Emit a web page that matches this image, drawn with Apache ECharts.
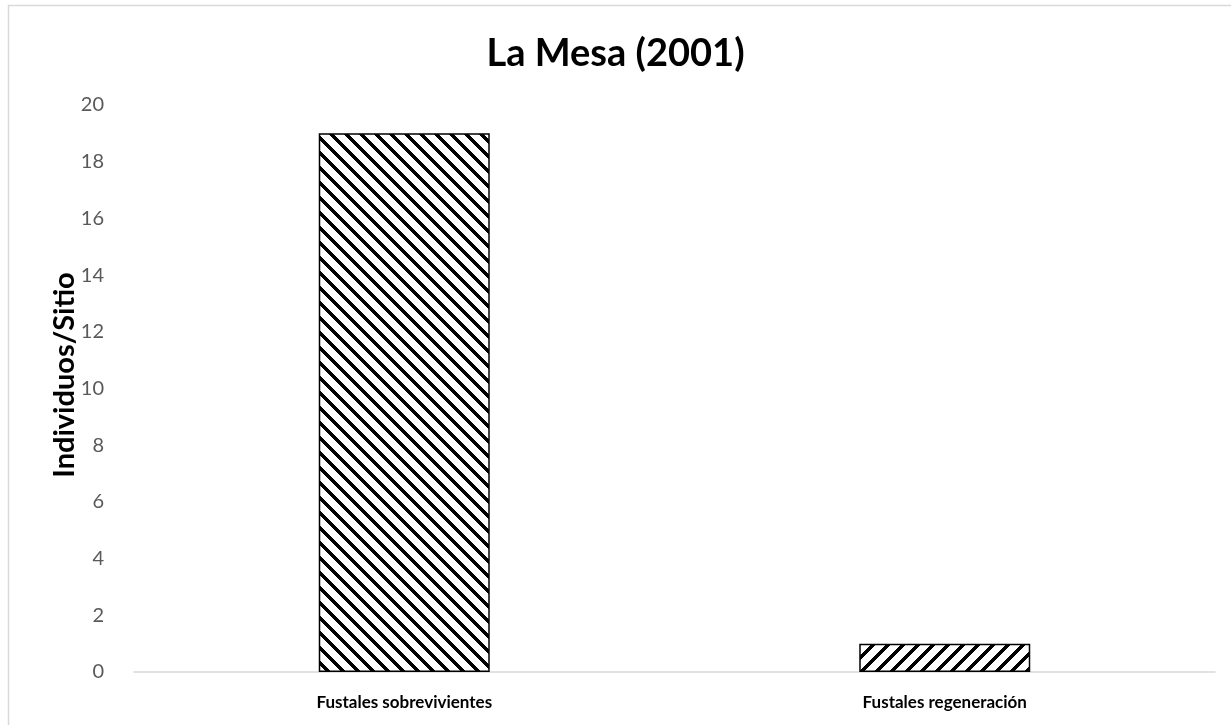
<!DOCTYPE html>
<html>
<head>
<meta charset="utf-8">
<script src="https://cdn.jsdelivr.net/npm/echarts@6/dist/echarts.min.js"></script>
<style>
  html, body { margin: 0; padding: 0; background: #fff; }
  #chart { width: 1231px; height: 725px; }
</style>
</head>
<body>
<div id="chart"></div>
<script>
// Chart data
const categories = ['Fustales sobrevivientes', 'Fustales regeneración'];
const values = [19, 1];
const yTicks = [0, 2, 4, 6, 8, 10, 12, 14, 16, 18, 20];
const titleText = 'La Mesa (2001)';
const yAxisName = 'Individuos/Sitio';

// Pixel-exact diagonal hatch tile; dir = 1 for "\" stripes, -1 for "/" stripes
function hatch(dir) {
  const s = 15, w = 5;
  const c = document.createElement('canvas');
  c.width = s; c.height = s;
  const g = c.getContext('2d');
  const img = g.createImageData(s, s);
  for (let y = 0; y < s; y++) {
    for (let x = 0; x < s; x++) {
      const t = dir > 0 ? (x - y + 2 * s) % s : (x + y) % s;
      const v = t < w ? 0 : 255;
      const i = (y * s + x) * 4;
      img.data[i] = img.data[i + 1] = img.data[i + 2] = v;
      img.data[i + 3] = 255;
    }
  }
  g.putImageData(img, 0, 0);
  return c;
}
const patterns = [hatch(1), hatch(-1)];

const chart = echarts.init(document.getElementById('chart'), null, { renderer: 'canvas' });
chart.setOption({
  animation: false,
  backgroundColor: '#fff',
  title: {
    text: titleText,
    left: 'center',
    top: 30,
    textStyle: { fontFamily: 'Lato', fontWeight: 'bold', fontSize: 38, color: '#000' }
  },
  graphic: [{
    type: 'rect',
    shape: { x: 8.5, y: 5.5, width: 1260, height: 760 },
    style: { fill: 'none', stroke: '#d9d9d9', lineWidth: 1.5 },
    silent: true
  }, {
    // vertical axis title
    type: 'text',
    x: 65, y: 375,
    rotation: Math.PI / 2,
    style: {
      text: yAxisName,
      fontFamily: 'Lato', fontWeight: 'bold', fontSize: 29, fill: '#000',
      align: 'center', verticalAlign: 'middle'
    },
    silent: true
  }],
  grid: { left: 134, right: 16, top: 105, bottom: 53 },
  xAxis: {
    type: 'category',
    data: categories,
    axisLine: { lineStyle: { color: '#d9d9d9', width: 1.5 } },
    axisTick: { show: false },
    axisLabel: {
      margin: 22,
      fontFamily: 'Lato', fontWeight: 'bold', fontSize: 17, color: '#000'
    }
  },
  yAxis: {
    type: 'value',
    min: yTicks[0],
    max: yTicks[yTicks.length - 1],
    interval: yTicks[1] - yTicks[0],
    axisLine: { show: false },
    axisTick: { show: false },
    splitLine: { show: false },
    axisLabel: { margin: 30, fontFamily: 'Lato', fontSize: 20, color: '#595959' }
  },
  series: [{
    type: 'bar',
    barWidth: 171,
    data: values.map((v, i) => ({
      value: v,
      itemStyle: {
        color: { image: patterns[i], repeat: 'repeat' },
        borderColor: '#000',
        borderWidth: 1.5
      }
    }))
  }]
});
</script>
</body>
</html>
